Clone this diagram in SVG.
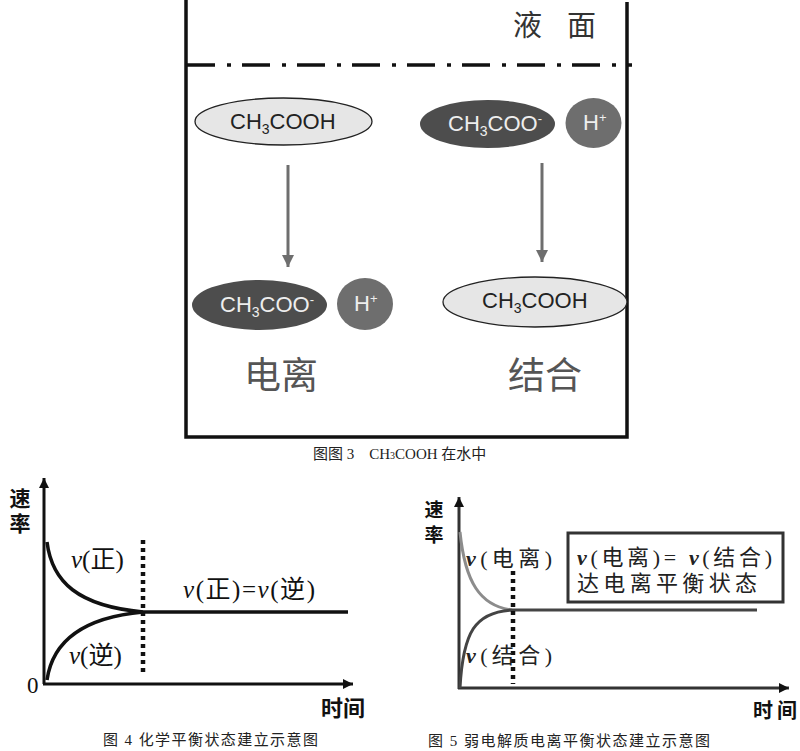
<svg xmlns="http://www.w3.org/2000/svg" width="800" height="751" viewBox="0 0 800 751">
<defs>
<style>
.wall{stroke:#111;stroke-width:3.5;fill:none}
.arr{stroke:#6e6e6e;stroke-width:3;fill:none}
.light{fill:#e6e6e6;stroke:#222;stroke-width:1.3}
.dark{fill:#4d4d4d}
.hion{fill:#6e6e6e}
.mol{font-family:"Liberation Sans",Arial,sans-serif;font-size:22px}
.big{font-family:"Noto Sans CJK SC",sans-serif;font-size:37px;fill:#555}
.cap{font-family:"Liberation Serif","Noto Sans CJK SC",serif;font-size:15px;fill:#222}
.hei{font-family:"Noto Sans CJK SC",sans-serif;font-weight:bold;fill:#111}
.lab{font-family:"Liberation Serif","Noto Sans CJK SC",serif;font-size:25px;fill:#111}
.lab5{font-family:"Liberation Serif","Noto Sans CJK SC",serif;font-size:22px;fill:#222}
.dots{stroke:#111;stroke-width:4.5;stroke-dasharray:4 4;fill:none}
</style>
<marker id="ah" viewBox="0 0 10 10" refX="10" refY="5" markerWidth="10" markerHeight="10" markerUnits="userSpaceOnUse" orient="auto">
<path d="M0,0 L10,5 L0,10 Z" fill="#111"/>
</marker>
<marker id="ahg" viewBox="0 0 10 10" refX="10" refY="5" markerWidth="12" markerHeight="14" markerUnits="userSpaceOnUse" orient="auto">
<path d="M0,0 L10,5 L0,10 Z" fill="#6e6e6e"/>
</marker>
</defs>
<rect width="800" height="751" fill="#fff"/>

<g id="beaker">
<path class="wall" d="M186,0 V437 H627 V2"/>
<line x1="187" y1="65" x2="632" y2="65" stroke="#111" stroke-width="3.5" stroke-dasharray="28 12 4 11"/>
<text x="513" y="36" font-family="Noto Sans CJK SC,sans-serif" font-size="29" fill="#333">液</text>
<text x="567" y="36" font-family="Noto Sans CJK SC,sans-serif" font-size="29" fill="#333">面</text>
</g>

<g id="connectors">
<line class="arr" x1="288" y1="165" x2="288" y2="267" marker-end="url(#ahg)"/>
<line class="arr" x1="542" y1="163" x2="542" y2="262" marker-end="url(#ahg)"/>
</g>

<g id="n-ch3cooh-top">
<ellipse class="light" cx="283.5" cy="121.5" rx="88.5" ry="23.5"/>
<text class="mol" x="230" y="129" fill="#222">CH<tspan font-size="14" dy="5">3</tspan><tspan dy="-5">COOH</tspan></text>
</g>
<g id="n-ch3coo-top">
<ellipse class="dark" cx="487.5" cy="124" rx="67.5" ry="24"/>
<text class="mol" x="448" y="131" fill="#eee">CH<tspan font-size="14" dy="5">3</tspan><tspan dy="-5">COO</tspan><tspan font-size="13" dy="-8">-</tspan></text>
</g>
<g id="n-h-top">
<ellipse class="hion" cx="593.5" cy="123" rx="28" ry="25"/>
<text class="mol" x="583" y="130" fill="#eee">H<tspan font-size="13" dy="-8">+</tspan></text>
</g>

<g id="n-ch3coo-bottom">
<ellipse class="dark" cx="259.5" cy="305" rx="67.5" ry="25"/>
<text class="mol" x="220" y="312" fill="#eee">CH<tspan font-size="14" dy="5">3</tspan><tspan dy="-5">COO</tspan><tspan font-size="13" dy="-8">-</tspan></text>
</g>
<g id="n-h-bottom">
<ellipse class="hion" cx="365" cy="304" rx="28" ry="26"/>
<text class="mol" x="354" y="311" fill="#eee">H<tspan font-size="13" dy="-8">+</tspan></text>
</g>
<g id="n-ch3cooh-bottom">
<ellipse class="light" cx="535" cy="302" rx="92" ry="25"/>
<text class="mol" x="482" y="308" fill="#222">CH<tspan font-size="14" dy="5">3</tspan><tspan dy="-5">COOH</tspan></text>
</g>

<g id="labels-top">
<text class="big" x="244" y="389">电离</text>
<text class="big" x="508" y="389">结合</text>
<text class="cap" x="313" y="459" font-size="14">图图 3　CH<tspan font-size="10">3</tspan>COOH 在水中</text>
</g>

<g id="graph4">
<line x1="44" y1="684" x2="44" y2="478" stroke="#111" stroke-width="3" marker-end="url(#ah)"/>
<line x1="43" y1="684" x2="353" y2="684" stroke="#111" stroke-width="3" marker-end="url(#ah)"/>
<text class="hei" x="20" y="488" font-size="21" writing-mode="tb" letter-spacing="4">速率</text>
<text x="27" y="693" font-family="Liberation Serif,serif" font-size="23" fill="#111">0</text>
<path d="M47,542 C52,582 78,606 143,612" stroke="#111" stroke-width="3.5" fill="none"/>
<path d="M47,680 C52,645 78,618 143,612" stroke="#111" stroke-width="3.5" fill="none"/>
<line x1="143" y1="612" x2="348" y2="612" stroke="#111" stroke-width="3.5"/>
<line class="dots" x1="143" y1="540" x2="143" y2="675"/>
<text class="lab" x="71" y="568"><tspan font-style="italic">v</tspan>(正)</text>
<text class="lab" x="69" y="664"><tspan font-style="italic">v</tspan>(逆)</text>
<text class="lab" x="183" y="598" textLength="132"><tspan font-style="italic">v</tspan>(正)=<tspan font-style="italic">v</tspan>(逆)</text>
<text class="hei" x="321" y="716" font-size="22">时间</text>
<text class="cap" x="103" y="745" textLength="215">图 4 化学平衡状态建立示意图</text>
</g>

<g id="graph5">
<line x1="459" y1="689" x2="459" y2="497" stroke="#333" stroke-width="3" marker-end="url(#ah)"/>
<line x1="458" y1="688" x2="789" y2="688" stroke="#333" stroke-width="3" marker-end="url(#ah)"/>
<text class="hei" x="434" y="500" font-size="19" writing-mode="tb" letter-spacing="6">速率</text>
<path d="M460,532 C465,582 480,606 512,610" stroke="#8c8c8c" stroke-width="3" fill="none"/>
<path d="M460,688 C463,632 475,612 512,610" stroke="#444" stroke-width="3" fill="none"/>
<line x1="512" y1="610" x2="757" y2="610" stroke="#444" stroke-width="3"/>
<line class="dots" x1="513" y1="571" x2="513" y2="684"/>
<text class="lab5" x="466" y="566" textLength="86"><tspan font-weight="bold" font-style="italic">v</tspan>(电离)</text>
<text class="lab5" x="466" y="663" textLength="86"><tspan font-weight="bold" font-style="italic">v</tspan>(结合)</text>
<rect x="568" y="533" width="215" height="69" fill="none" stroke="#333" stroke-width="3"/>
<text class="lab5" x="577" y="565" textLength="195"><tspan font-weight="bold" font-style="italic">v</tspan>(电离)= <tspan font-weight="bold" font-style="italic">v</tspan>(结合)</text>
<text class="lab5" x="577" y="591" textLength="180">达电离平衡状态</text>
<text class="hei" x="753" y="718" font-size="20" textLength="44">时间</text>
<text class="cap" x="428" y="746" textLength="282">图 5 弱电解质电离平衡状态建立示意图</text>
</g>
</svg>
